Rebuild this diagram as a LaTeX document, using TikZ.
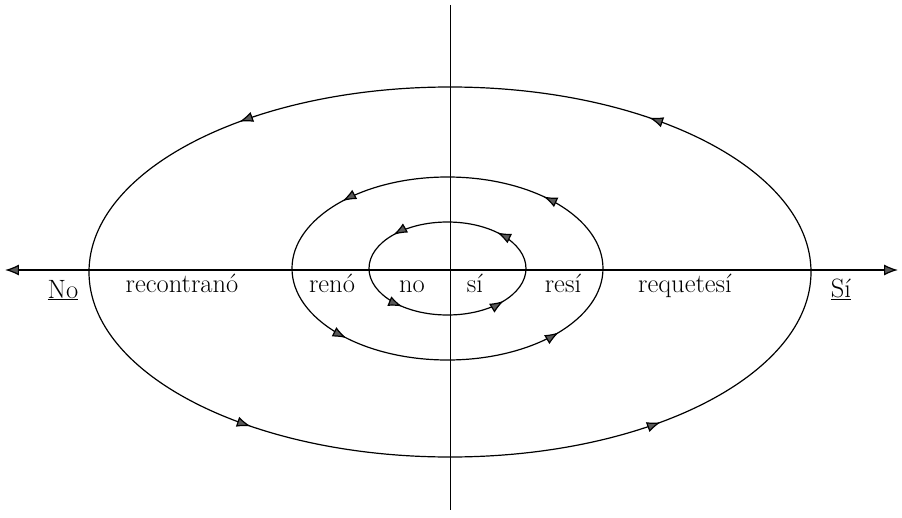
\documentclass[tikz,border=0pt]{standalone}
\usepackage{fontspec}
\usepackage{tikz}
\usetikzlibrary{arrows.meta,decorations.markings}
\usetikzlibrary{calc}

\begin{document}
\begin{tikzpicture}[
  x=1pt, y=1pt,
  > = {Latex[length=14pt,width=10.5pt,fill=black!65]},
  every node/.style = {font=\fontsize{26.5}{30}\selectfont, inner sep=0pt},
  axis tip/.style = {{Latex[length=14pt,width=11pt,fill=black!65]}-{Latex[length=14pt,width=11pt,fill=black!65]}},
  orbit/.style n args = {4}{line width=1.2pt, postaction=decorate,
    decoration={markings,
      mark=at position #1 with {\arrow{>}},
      mark=at position #2 with {\arrow{>}},
      mark=at position #3 with {\arrow{>}},
      mark=at position #4 with {\arrow{>}}}}
  ]
	\useasboundingbox (-450,-247) rectangle (452,270);

	\coordinate (@1) at (-445,0);
	\coordinate (@2) at (448,0);
	\coordinate (@3) at (0,265);
	\coordinate (@4) at (0,-240);
	\coordinate (@5) at (0,-2);
	\coordinate (@6) at (-2.5,1.5);

	\draw[axis tip, line width=1.2pt] (@1) -- (@2);
	\draw[line width=0.9pt] (@3) -- (@4);

	\draw[orbit={0.135}{0.372}{0.635}{0.872}] (@5) ellipse [x radius=361pt, y radius=185pt];
	\draw[orbit={0.125}{0.388}{0.618}{0.897}] (@6) ellipse [x radius=155.5pt, y radius=91.5pt];
	\draw[orbit={0.122}{0.391}{0.634}{0.897}] (@6) ellipse [x radius=78.5pt, y radius=46.5pt];

	\node[anchor=base] (No) at (-387,-28) {\underline{No}};
	\node[anchor=base] (recontrano) at (-268,-22) {recontranó};
	\node[anchor=base] (reno) at (-118,-22) {renó};
	\node[anchor=base] (no) at (-38,-22) {no};
	\node[anchor=base] (si) at (25,-22) {sí};
	\node[anchor=base] (resi) at (113,-22) {resí};
	\node[anchor=base] (requetesi) at (235,-22) {requetesí};
	\node[anchor=base] (Si) at (391,-27) {\underline{Sí}};

\end{tikzpicture}
\end{document}
